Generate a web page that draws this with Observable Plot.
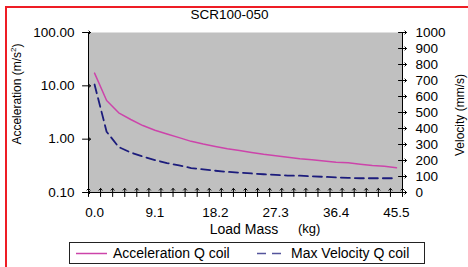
<!DOCTYPE html>
<html>
<head>
<meta charset="utf-8">
<script src="https://cdn.jsdelivr.net/npm/d3@7"></script>
<script src="https://cdn.jsdelivr.net/npm/@observablehq/plot@0.6"></script>
<style>
  html, body { margin: 0; padding: 0; background: #fff; overflow: hidden; width: 468px; height: 267px; }
  #wrap { position: relative; width: 468px; height: 267px; font-family: 'Liberation Sans', Arial, sans-serif; color: #000; }
  #border { position: absolute; left: 5px; top: 6px; width: 600px; height: 400px;
            border-left: 2px solid #ee1d25; border-top: 2px solid #ee1d25; pointer-events: none; }
  #legend { position: absolute; left: 69px; top: 242px; }
  .lbl { position: absolute; white-space: nowrap; text-align: center; }
  #title { left: 0; width: 459px; top: 7px; font-size: 13.5px; line-height: 16px; }
  #ylab { left: -43px; width: 120px; top: 87px; font-size: 12px; line-height: 14px; transform: rotate(-90deg); }
  #y2lab { left: 400px; width: 120px; top: 108px; font-size: 12px; line-height: 14px; transform: rotate(-90deg); }
  #xlab { left: 194px; width: 100px; top: 221px; font-size: 14px; line-height: 16px; }
  #xunit { left: 298px; top: 221px; font-size: 13px; line-height: 16px; text-align: left; }
</style>
</head>
<body>
<div id="wrap">
  <div id="chart"></div>
  <div id="title" class="lbl"></div>
  <div id="ylab" class="lbl">Acceleration (m/s<sup style="font-size:8px;line-height:0">2</sup>)</div>
  <div id="y2lab" class="lbl">Velocity (mm/s)</div>
  <div id="xlab" class="lbl">Load Mass</div>
  <div id="xunit" class="lbl">(kg)</div>
  <div id="legend"></div>
  <div id="border"></div>
</div>
<script>
// ---- data ----
const title = "SCR100-050";
const loadMass = [0, 1.82, 3.64, 5.46, 7.28, 9.1, 10.92, 12.74, 14.56, 16.38, 18.2, 20.02, 21.84,
                  23.66, 25.48, 27.3, 29.12, 30.94, 32.76, 34.58, 36.4, 38.22, 40.04, 41.86, 43.68, 45.5];
const acceleration = [17.3, 5.31, 3.12, 2.34, 1.80, 1.47, 1.25, 1.07, 0.91, 0.81, 0.73, 0.66, 0.61,
                      0.56, 0.52, 0.49, 0.46, 0.43, 0.41, 0.39, 0.37, 0.36, 0.34, 0.32, 0.31, 0.29];
const velocity = [675, 380, 284, 250, 225, 203, 184, 169, 153, 144, 136, 129, 124,
                  119, 114, 110, 106, 105, 101, 98, 94, 92, 89, 89, 89, 89];
const accTicks = [0.1, 1, 10, 100];
const velTicks = [0, 100, 200, 300, 400, 500, 600, 700, 800, 900, 1000];
const massLabelTicks = [0, 9.1, 18.2, 27.3, 36.4, 45.5];
const seriesNames = ["Acceleration Q coil", "Max Velocity Q coil"];

document.getElementById("title").textContent = title;

// ---- derived ----
const step = loadMass[1] - loadMass[0];
const xDomain = [loadMass[0] - step / 2, loadMass[loadMass.length - 1] + step / 2];
const bounds = d3.range(loadMass.length + 1).map(k => xDomain[0] + k * step);
const yDomain = [0.1, 100];
const velMax = 1000;
const lo = Math.log10(yDomain[0]), hi = Math.log10(yDomain[1]);
// map the secondary (linear velocity) axis onto the primary log scale
const velToY = v => Math.pow(10, lo + (v / velMax) * (hi - lo));
const accData = loadMass.map((m, i) => ({m, a: acceleration[i]}));
const velData = loadMass.map((m, i) => ({m, v: velocity[i]}));

const pink = "#cc44aa";
const navy = "#1c1c7c";
const font = "'Liberation Sans', Arial, sans-serif";

const chart = Plot.plot({
  width: 468, height: 267,
  marginLeft: 88, marginRight: 66, marginTop: 32, marginBottom: 75,
  x: {domain: xDomain, label: null},
  y: {type: "log", domain: yDomain, label: null},
  style: {fontFamily: font, fontSize: "13.5px", background: "transparent", color: "#000"},
  marks: [
    Plot.frame({fill: "#c0c0c0"}),
    Plot.lineY(accData, {x: "m", y: "a", stroke: pink, strokeWidth: 1.5}),
    Plot.lineY(velData, {x: "m", y: d => velToY(d.v), stroke: navy, strokeWidth: 1.8, strokeDasharray: "9,5"}),
    Plot.ruleX([xDomain[0], xDomain[1]], {stroke: "#000"}),
    Plot.ruleY([yDomain[0]], {stroke: "#000"}),
    // tick marks crossing the axes
    Plot.vector(bounds, {x: d => d, frameAnchor: "bottom", length: 8, anchor: "middle", rotate: 0, stroke: "#000", strokeWidth: 1}),
    Plot.vector(accTicks, {y: d => d, frameAnchor: "left", length: 8, anchor: "middle", rotate: 90, dx: -2, stroke: "#000", strokeWidth: 1}),
    Plot.vector(velTicks, {y: d => velToY(d), frameAnchor: "right", length: 8, anchor: "middle", rotate: 90, stroke: "#000", strokeWidth: 1}),
    // tick labels
    Plot.axisY({ticks: accTicks, tickFormat: d => d.toFixed(2), tickSize: 0, tickPadding: 14, label: null}),
    Plot.text(velTicks, {y: d => velToY(d), text: d => String(d), frameAnchor: "right", dx: 13, textAnchor: "start", fontSize: 13.5, fill: "#000"}),
    Plot.axisX({ticks: massLabelTicks, tickFormat: d => d.toFixed(1), tickSize: 0, tickPadding: 15, fontSize: 13.5, label: null})
  ]
});
document.getElementById("chart").appendChild(chart);

// legend
const lg = d3.select("#legend").append("svg").attr("width", 357).attr("height", 23)
  .style("font-family", font).style("font-size", "14px").style("display", "block");
lg.append("rect").attr("x", 0.5).attr("y", 0.5).attr("width", 355).attr("height", 21)
  .attr("fill", "#fff").attr("stroke", "#222");
lg.append("line").attr("x1", 7).attr("x2", 38).attr("y1", 11.5).attr("y2", 11.5).attr("stroke", pink).attr("stroke-width", 1.5);
lg.append("text").attr("x", 44).attr("y", 16).text(seriesNames[0]);
lg.append("line").attr("x1", 188).attr("x2", 212).attr("y1", 11.5).attr("y2", 11.5).attr("stroke", navy).attr("stroke-width", 1.5).attr("stroke-dasharray", "9,6").attr("opacity", 0.75);
lg.append("text").attr("x", 222).attr("y", 16).text(seriesNames[1]);
</script>
</body>
</html>
